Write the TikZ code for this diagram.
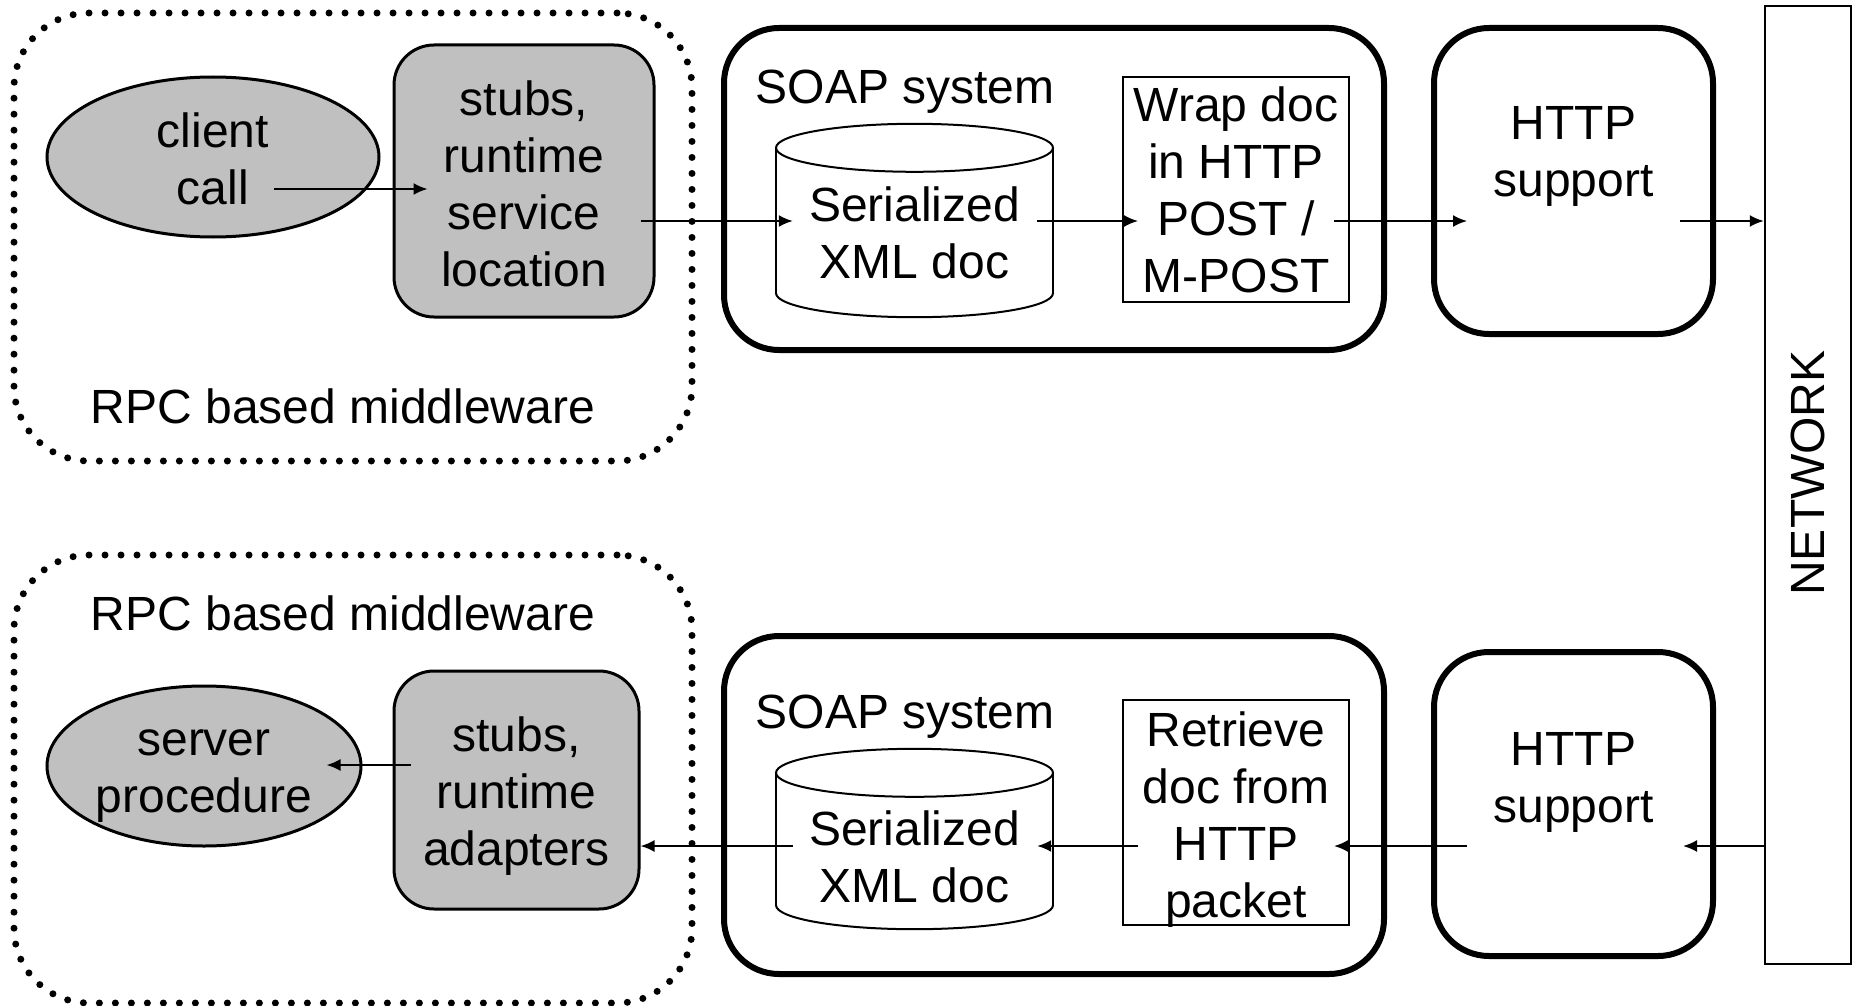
\documentclass[tikz,border=0pt]{standalone}
\usepackage{fontspec}
\setmainfont{Liberation Sans}
\usetikzlibrary{arrows.meta,calc,shapes.geometric}
\definecolor{boxgray}{HTML}{C0C0C0}
\newcommand\drawcyl[1]{%
  \draw[line width=2pt] ($(#1.south)+(0,-24)$) ellipse [x radius=138.5, y radius=24];
  \fill[white] ($(#1.north west)+(0,24)$) rectangle ($(#1.south east)+(0,-24)$);
  \draw[line width=2pt] ($(#1.north west)+(0,24)$) -- ($(#1.south west)+(0,-24)$)
                        ($(#1.north east)+(0,24)$) -- ($(#1.south east)+(0,-24)$);
  \draw[line width=2pt,fill=white] ($(#1.north)+(0,24)$) ellipse [x radius=138.5, y radius=24];
}
\begin{document}
\begin{tikzpicture}[x=1pt,y=-1pt,
  txt/.style={font=\fontsize{48}{57}\selectfont, align=center, inner sep=0pt},
  dotbox/.style={draw, rectangle, rounded corners=75pt, line width=7pt, dash pattern=on 0pt off 16pt, line cap=round, inner sep=0pt},
  soapbox/.style={draw, rectangle, rounded corners=55pt, line width=6pt, inner sep=0pt},
  graybox/.style={draw, rectangle, rounded corners=40pt, line width=3pt, fill=boxgray, inner sep=0pt},
  grayell/.style={draw, ellipse, line width=3pt, fill=boxgray, inner sep=0pt},
  thinbox/.style={draw, rectangle, line width=2pt, inner sep=0pt},
  cylbox/.style={rectangle, minimum width=277pt, inner sep=0pt},
  arr/.style={line width=2pt, -{Latex[length=14pt,width=12pt]}},
]
\fill[white] (0,0) rectangle (1855,1006);
\useasboundingbox (0,0) rectangle (1855,1006);

% ---------- top row ----------
\node[dotbox, minimum width=678pt, minimum height=448pt] (mw1) at (353,237) {};
\node[txt] (mw1l) at (343,406) {RPC based middleware};
\node[grayell, minimum width=332pt, minimum height=160pt] (cc) at (213,157) {};
\node[txt] (cct) at ($(cc)+(0,2)$) {client\\call};
\node[graybox, minimum width=260pt, minimum height=272pt] (st1) at (524,181) {};
\node[txt] (st1t) at ($(st1)+(0,3)$) {stubs,\\runtime\\service\\location};
\node[soapbox, minimum width=660pt, minimum height=322pt] (soap1) at (1054,189) {};
\node[txt] (soap1l) at (905,92) {SOAP system};
\node[cylbox, minimum height=193pt] (cyl1) at (914.5,220.5) {};
\drawcyl{cyl1}
\node[txt] (cyl1t) at ($(cyl1)+(0,12.5)$) {Serialized\\XML doc};
\node[thinbox, minimum width=226pt, minimum height=225pt] (wrap) at (1236,189.5) {};
\node[txt] (wrapt) at ($(wrap)+(0,0.5)$) {Wrap doc\\in HTTP\\POST /\\M-POST};
\node[soapbox, minimum width=279pt, minimum height=306pt] (http1) at (1573.5,181) {};
\node[txt] (http1t) at (1573.5,156) {HTTP\\support};

% network
\node[draw, line width=2.5pt, minimum width=86pt, minimum height=958pt, inner sep=0pt] (net) at (1808,485) {};
\node[txt, rotate=90] (netl) at (1808,473) {NETWORK};

\coordinate (r1) at (0,221);
\draw[arr] ($(cc.center)+(61,32)$) -- ($(st1.west)+(35,8)$);
\draw[arr] ($(st1.east |- r1)+(-15,0)$) -- ($(cyl1.west |- r1)+(17,0)$);
\draw[arr] ($(cyl1.east |- r1)+(-16,0)$) -- ($(wrap.west |- r1)+(16,0)$);
\draw[arr] ($(wrap.east |- r1)+(-16,0)$) -- ($(http1.west |- r1)+(36,0)$);
\draw[arr] ($(http1.east |- r1)+(-36,0)$) -- (net.west |- r1);

% ---------- bottom row ----------
\node[dotbox, minimum width=678pt, minimum height=448pt] (mw2) at (353,779) {};
\node[txt] (mw2l) at (343,613) {RPC based middleware};
\node[grayell, minimum width=314pt, minimum height=160pt] (sp) at (204,766) {};
\node[txt] (spt) at ($(sp)+(0,10)$) {server\\procedure};
\node[graybox, minimum width=245pt, minimum height=238pt] (st2) at (516.5,790) {};
\node[txt] (st2t) at ($(st2)+(0,6)$) {stubs,\\runtime\\adapters};
\node[soapbox, minimum width=660pt, minimum height=338pt] (soap2) at (1054,805) {};
\node[txt] (soap2l) at (905,717) {SOAP system};
\node[cylbox, minimum height=180pt] (cyl2) at (914.5,839) {};
\drawcyl{cyl2}
\node[txt] (cyl2t) at ($(cyl2)+(0,18)$) {Serialized\\XML doc};
\node[thinbox, minimum width=226pt, minimum height=225pt] (ret) at (1236,812.5) {};
\node[txt] (rett) at ($(ret)+(0,7)$) {Retrieve\\doc from\\HTTP\\packet};
\node[soapbox, minimum width=279pt, minimum height=304pt] (http2) at (1573.5,804) {};
\node[txt] (http2t) at (1573.5,782) {HTTP\\support};

\coordinate (r2) at (0,846);
\draw[arr] (net.west |- r2) -- ($(http2.east |- r2)+(-33,0)$);
\draw[arr] ($(http2.west |- r2)+(36,0)$) -- ($(ret.east |- r2)+(-16,0)$);
\draw[arr] ($(ret.west |- r2)+(16,0)$) -- ($(cyl2.east |- r2)+(-16,0)$);
\draw[arr] ($(cyl2.west |- r2)+(17,0)$) -- (st2.east |- r2);
\draw[arr] ($(st2.west)+(18,-25)$) -- ($(sp.east)+(-36,-1)$);
\end{tikzpicture}
\end{document}
